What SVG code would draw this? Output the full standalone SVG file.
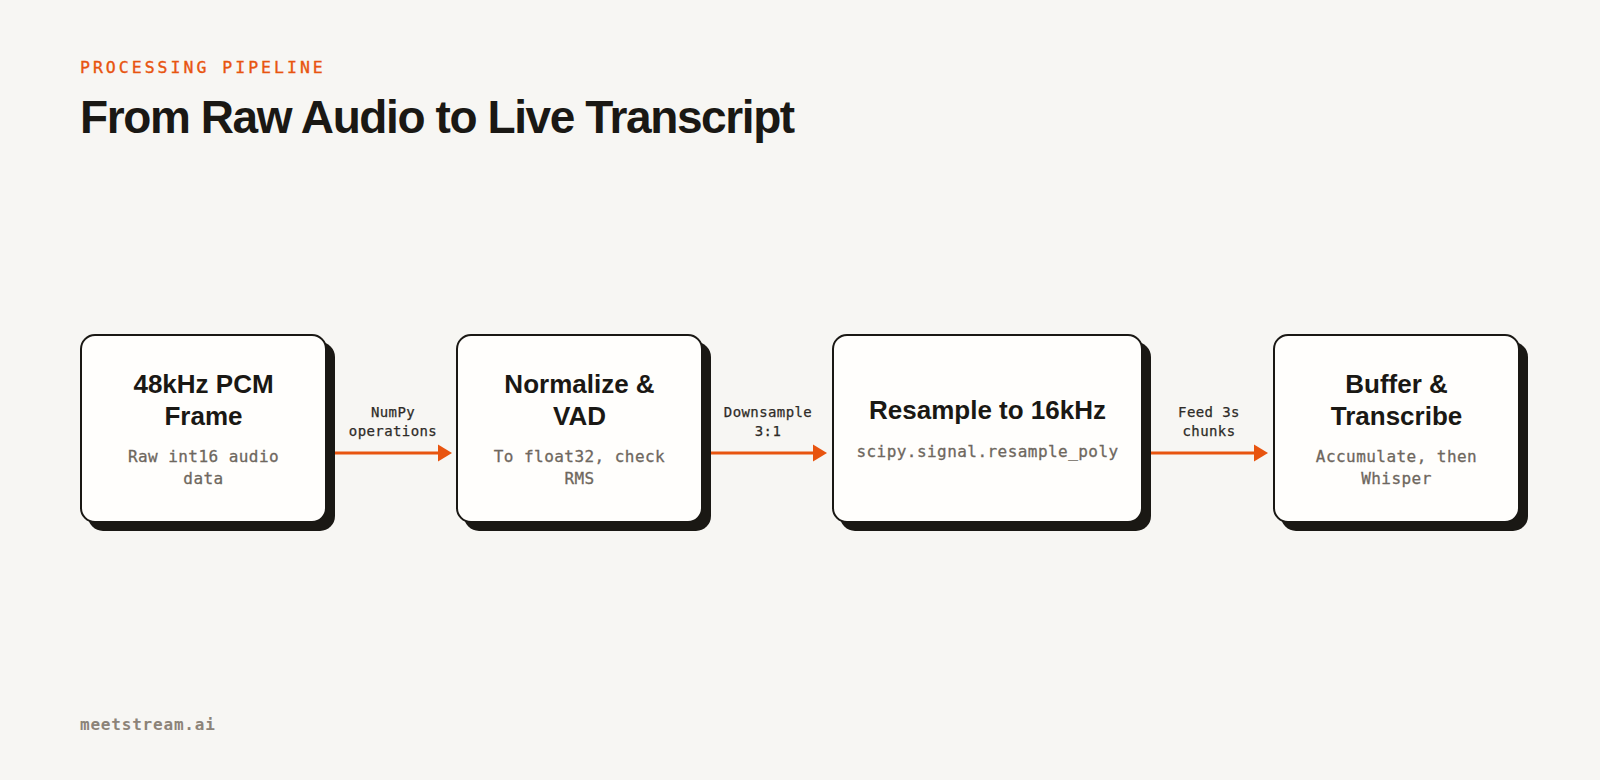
<svg xmlns="http://www.w3.org/2000/svg" width="1600" height="780" viewBox="0 0 1600 780">
  <style>
    .eyebrow { font-family: "DejaVu Sans Mono", "Liberation Mono", monospace; font-size: 16.5px; letter-spacing: 3px; fill: #e8540f; stroke: #e8540f; stroke-width: 0.35px; }
    .title { font-family: "Liberation Sans", Arial, sans-serif; font-weight: 700; font-size: 46px; letter-spacing: -1.4px; fill: #1a1814; }
    .box { fill: #fffefc; stroke: #1a1814; stroke-width: 2; }
    .shadow { fill: #1a1814; }
    .ntitle { font-family: "Liberation Sans", Arial, sans-serif; font-weight: 700; font-size: 26px; fill: #1a1814; text-anchor: middle; }
    .nsub { font-family: "DejaVu Sans Mono", "Liberation Mono", monospace; font-size: 16px; letter-spacing: 0.45px; fill: #6e675e; stroke: #6e675e; stroke-width: 0.3px; text-anchor: middle; }
    .elabel { font-family: "DejaVu Sans Mono", "Liberation Mono", monospace; font-size: 14px; letter-spacing: 0.4px; fill: #2e2b27; stroke: #2e2b27; stroke-width: 0.25px; text-anchor: middle; }
    .edge { stroke: #e8540f; stroke-width: 3; fill: none; }
    .footer { font-family: "DejaVu Sans Mono", "Liberation Mono", monospace; font-weight: 700; font-size: 16px; letter-spacing: 0.8px; fill: #8c8378; }
  </style>
  <defs>
    <marker id="arrow" markerUnits="userSpaceOnUse" markerWidth="16" markerHeight="18" refX="0" refY="9" orient="auto">
      <path d="M0,0.5 L14,9 L0,17.5 Z" fill="#e8540f"/>
    </marker>
  </defs>
  <rect x="0" y="0" width="1600" height="780" fill="#f7f6f3"/>

  <g id="header">
    <text class="eyebrow" x="80" y="72.7">PROCESSING PIPELINE</text>
    <text class="title" x="80" y="132.7">From Raw Audio to Live Transcript</text>
  </g>

  <g id="connectors">
    <g id="edge1">
      <line class="edge" x1="335" y1="453" x2="438" y2="453" marker-end="url(#arrow)"/>
      <text class="elabel" x="393" y="416.7">NumPy</text>
      <text class="elabel" x="393" y="435.5">operations</text>
    </g>
    <g id="edge2">
      <line class="edge" x1="710" y1="453" x2="813" y2="453" marker-end="url(#arrow)"/>
      <text class="elabel" x="768" y="416.7">Downsample</text>
      <text class="elabel" x="768" y="435.5">3:1</text>
    </g>
    <g id="edge3">
      <line class="edge" x1="1151" y1="453" x2="1254" y2="453" marker-end="url(#arrow)"/>
      <text class="elabel" x="1209" y="416.7">Feed 3s</text>
      <text class="elabel" x="1209" y="435.5">chunks</text>
    </g>
  </g>

  <g id="node1">
    <rect class="shadow" x="88" y="342" width="247" height="189" rx="15"/>
    <rect class="box" x="81" y="335" width="245" height="187" rx="14"/>
    <text class="ntitle" x="203.5" y="392.7">48kHz PCM</text>
    <text class="ntitle" x="203.5" y="425">Frame</text>
    <text class="nsub" x="203.5" y="461.7">Raw int16 audio</text>
    <text class="nsub" x="203.5" y="484">data</text>
  </g>

  <g id="node2">
    <rect class="shadow" x="464" y="342" width="247" height="189" rx="15"/>
    <rect class="box" x="457" y="335" width="245" height="187" rx="14"/>
    <text class="ntitle" x="579.5" y="392.7">Normalize &amp;</text>
    <text class="ntitle" x="579.5" y="425">VAD</text>
    <text class="nsub" x="579.5" y="461.7">To float32, check</text>
    <text class="nsub" x="579.5" y="484">RMS</text>
  </g>

  <g id="node3">
    <rect class="shadow" x="840" y="342" width="311" height="189" rx="15"/>
    <rect class="box" x="833" y="335" width="309" height="187" rx="14"/>
    <text class="ntitle" x="987.5" y="419.3">Resample to 16kHz</text>
    <text class="nsub" x="987.5" y="456.7">scipy.signal.resample_poly</text>
  </g>

  <g id="node4">
    <rect class="shadow" x="1281" y="342" width="247" height="189" rx="15"/>
    <rect class="box" x="1274" y="335" width="245" height="187" rx="14"/>
    <text class="ntitle" x="1396.5" y="392.7">Buffer &amp;</text>
    <text class="ntitle" x="1396.5" y="425">Transcribe</text>
    <text class="nsub" x="1396.5" y="461.7">Accumulate, then</text>
    <text class="nsub" x="1396.5" y="484">Whisper</text>
  </g>

  <g id="footer">
    <text class="footer" x="80" y="730">meetstream.ai</text>
  </g>
</svg>
